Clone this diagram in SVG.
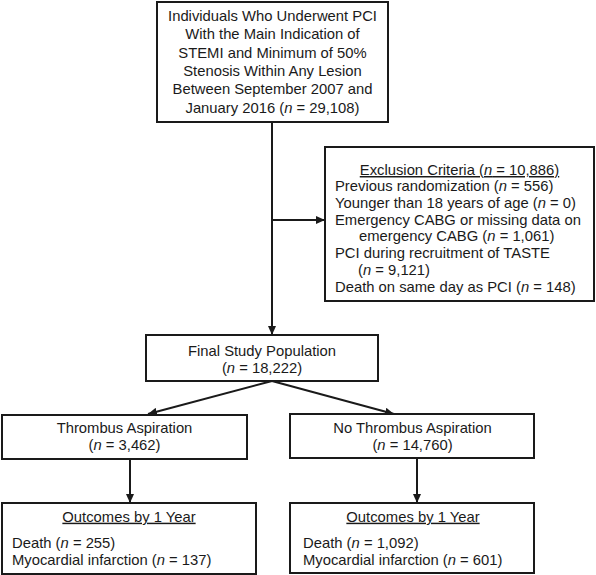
<svg xmlns="http://www.w3.org/2000/svg" width="596" height="575" viewBox="0 0 596 575">
<style>
.box{fill:#fff;stroke:#1a1a1a;stroke-width:2}
text{font-family:"Liberation Sans",Arial,sans-serif;font-size:14.8px;fill:#1a1a1a}
.c{text-anchor:middle}
.u{text-decoration:underline}
.i{font-style:italic}
.ln{stroke:#1a1a1a;stroke-width:2;fill:none}
</style>
<defs>
<marker id="ah" markerUnits="userSpaceOnUse" markerWidth="9" markerHeight="8" refX="9" refY="4" orient="auto">
<path d="M0,0 L9,4 L0,8 z" fill="#1a1a1a"/>
</marker>
</defs>
<rect width="596" height="575" fill="#fff"/>
<g id="connectors">
<line class="ln" x1="272" y1="122" x2="272" y2="335" marker-end="url(#ah)"/>
<line class="ln" x1="272" y1="220" x2="325" y2="220" marker-end="url(#ah)"/>
<line class="ln" x1="272" y1="381" x2="148" y2="414" marker-end="url(#ah)"/>
<line class="ln" x1="272" y1="381" x2="394" y2="414" marker-end="url(#ah)"/>
<line class="ln" x1="130" y1="459" x2="130" y2="503" marker-end="url(#ah)"/>
<line class="ln" x1="417" y1="458" x2="417" y2="503" marker-end="url(#ah)"/>
</g>
<g id="source">
<rect class="box" x="157" y="2" width="231" height="120"/>
<text class="c" x="272.5" y="21">Individuals Who Underwent PCI</text>
<text class="c" x="272.5" y="39.3">With the Main Indication of</text>
<text class="c" x="272.5" y="57.6">STEMI and Minimum of 50%</text>
<text class="c" x="272.5" y="75.9">Stenosis Within Any Lesion</text>
<text class="c" x="272.5" y="94.2">Between September 2007 and</text>
<text class="c" x="272.5" y="112.5">January 2016 (<tspan class="i">n</tspan> = 29,108)</text>
</g>
<g id="exclusion">
<rect class="box" x="325" y="147" width="269" height="154"/>
<text class="c u" x="459.5" y="175">Exclusion Criteria (<tspan class="i">n</tspan> = 10,886)</text>
<text x="335" y="191">Previous randomization (<tspan class="i">n</tspan> = 556)</text>
<text x="335" y="207.8">Younger than 18 years of age (<tspan class="i">n</tspan> = 0)</text>
<text x="335" y="224.6">Emergency CABG or missing data on</text>
<text x="359" y="241.4">emergency CABG (<tspan class="i">n</tspan> = 1,061)</text>
<text x="335" y="258.2">PCI during recruitment of TASTE</text>
<text x="358" y="275">(<tspan class="i">n</tspan> = 9,121)</text>
<text x="335" y="291.8">Death on same day as PCI (<tspan class="i">n</tspan> = 148)</text>
</g>
<g id="final">
<rect class="box" x="146" y="335" width="232" height="46"/>
<text class="c" x="262" y="355.5">Final Study Population</text>
<text class="c" x="262" y="372.5">(<tspan class="i">n</tspan> = 18,222)</text>
</g>
<g id="thrombus">
<rect class="box" x="2" y="415" width="245" height="44"/>
<text class="c" x="124.5" y="433">Thrombus Aspiration</text>
<text class="c" x="124.5" y="450">(<tspan class="i">n</tspan> = 3,462)</text>
</g>
<g id="nothrombus">
<rect class="box" x="290" y="414" width="244" height="44"/>
<text class="c" x="412.5" y="433">No Thrombus Aspiration</text>
<text class="c" x="412.5" y="450">(<tspan class="i">n</tspan> = 14,760)</text>
</g>
<g id="outcomes-left">
<rect class="box" x="2" y="503" width="254" height="71"/>
<text class="c u" x="129" y="521.7">Outcomes by 1 Year</text>
<text x="12" y="548">Death (<tspan class="i">n</tspan> = 255)</text>
<text x="12" y="565">Myocardial infarction (<tspan class="i">n</tspan> = 137)</text>
</g>
<g id="outcomes-right">
<rect class="box" x="290" y="503" width="244" height="70"/>
<text class="c u" x="413" y="521.7">Outcomes by 1 Year</text>
<text x="303" y="548">Death (<tspan class="i">n</tspan> = 1,092)</text>
<text x="303" y="565">Myocardial infarction (<tspan class="i">n</tspan> = 601)</text>
</g>
</svg>
